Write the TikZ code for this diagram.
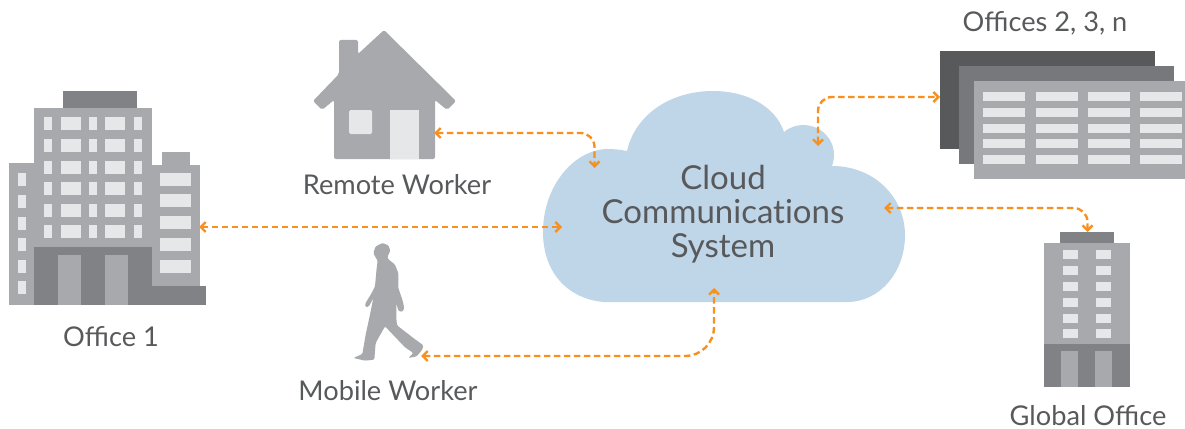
\documentclass[tikz,border=0pt]{standalone}
\usepackage{fontspec}
\setmainfont{Lato}
\usetikzlibrary{arrows.meta}
\definecolor{bodygrey}{HTML}{A7A9AC}
\definecolor{darkgrey}{HTML}{808285}
\definecolor{midgrey}{HTML}{77787B}
\definecolor{backgrey}{HTML}{58595B}
\definecolor{pane}{HTML}{E6E7E8}
\definecolor{cloudblue}{HTML}{BFD5E8}
\definecolor{linkorange}{HTML}{F7901E}
\definecolor{labeltext}{HTML}{58595B}
\tikzset{
  body/.style={fill=bodygrey},
  dark/.style={fill=darkgrey},
  glass/.style={fill=pane},
  link/.style={draw=linkorange,line width=2.4pt,dash pattern=on 6.5pt off 3.5pt,
    {Straight Barb[length=5pt,width=10pt,line width=2.4pt]}-{Straight Barb[length=5pt,width=10pt,line width=2.4pt]}},
  label/.style={text=labeltext,font=\fontsize{27.2}{30}\selectfont,inner sep=0pt,anchor=base},
  cloudtext/.style={text=labeltext,font=\fontsize{33}{34}\selectfont,inner sep=0pt,align=center,anchor=center}
}
\begin{document}
\begin{tikzpicture}[x=1pt,y=-1pt]
\useasboundingbox (0,0) rectangle (1185,428);

% Cloud
\fill[cloudblue] (603,302) .. controls (565,298) and (543,270) .. (543,232)
  .. controls (543,185) and (575,149) .. (608,149)
  .. controls (615,149) and (622,150) .. (627,151)
  .. controls (635,115) and (670,91) .. (713,91)
  .. controls (745,91) and (775,105) .. (784,132)
  .. controls (790,127) and (797,125) .. (803,125)
  .. controls (820,125) and (834,138) .. (834,155)
  .. controls (834,159) and (833,163) .. (832,166)
  .. controls (875,166) and (905,198) .. (905,235)
  .. controls (905,272) and (880,302) .. (847,302) -- cycle;
\node[cloudtext] (cloudlabel) at (723,214) {Cloud\\Communicat\kern0pt ions\\System};

% Office 1
\fill[dark] (63,91) rectangle (137,108);
\fill[body] (34,108) rectangle (152,247);
\fill[body] (9,163) rectangle (34,305);
\fill[body] (152,165) rectangle (200,286);
\fill[body] (162,152) rectangle (190,165);
\fill[dark] (34,247) rectangle (152,305);
\fill[dark] (152,286) rectangle (206,305);
\fill[body] (58,255) rectangle (81,305);
\fill[body] (105,255) rectangle (128,305);
\foreach \ya/\yb in {117/130,139/152,161/174,182/195,204/217,225/238}
  \foreach \xa/\xb in {44/52,61/81,89/97,105/125,134/142}
    \fill[glass] (\xa,\ya) rectangle (\xb,\yb);
\foreach \ya/\yb in {173/186,195/208,217/230,238/251,260/273,281/294}
  \fill[glass] (18,\ya) rectangle (26,\yb);
\foreach \ya/\yb in {173/186,194/207,216/229,238/251,260/273}
  \fill[glass] (160,\ya) rectangle (191,\yb);

% House
\fill[body,rounded corners=2pt] (384,30) -- (456,101) -- (447,110) -- (435,100) -- (435,159)
  -- (334,159) -- (334,100) -- (322,110) -- (313,101) -- (339,74) -- (339,40) -- (358,40)
  -- (358,54) -- cycle;
\fill[glass,rounded corners=1.5pt] (349,110) rectangle (372,134);
\fill[glass] (390,110) rectangle (419,159);

% Walking figure
\begin{scope}[shift={(345,238)},x=0.3333pt,y=-0.3333pt]
\fill[body,rounded corners=1.2pt] (112,15) -- (130,22) -- (136,38) -- (128,55) -- (128,62)
  -- (150,80) -- (160,105) -- (160,150) -- (172,185) -- (178,210) -- (172,222) -- (160,218)
  -- (154,195) -- (154,240) -- (156,262) -- (205,300) -- (235,322) -- (232,335) -- (215,355)
  -- (190,360) -- (205,345) -- (180,328) -- (120,265) -- (92,315) -- (88,365) -- (60,368)
  -- (25,360) -- (52,348) -- (62,290) -- (76,225) -- (85,180) -- (72,205) -- (62,208)
  -- (60,198) -- (80,165) -- (90,145) -- (95,90) -- (98,68) -- (90,55) -- (85,45) -- (92,25) -- cycle;
\end{scope}

% Offices 2, 3, n
\fill[backgrey] (940,51) rectangle (1155,149);
\fill[midgrey] (959,66) rectangle (1174,164);
\fill[body] (974,81) rectangle (1185,179);
\foreach \ya/\yb in {92/101,108/117,124/133,139/148,155/164}
  \foreach \xa/\xb in {983/1025,1036/1078,1088/1130,1140/1182}
    \fill[glass] (\xa,\ya) rectangle (\xb,\yb);

% Global office
\fill[dark] (1060,232) rectangle (1114,244);
\fill[body] (1044,243) rectangle (1130,344);
\fill[dark] (1044,344) rectangle (1130,387);
\fill[body] (1061,351) rectangle (1078,387);
\fill[body] (1095,351) rectangle (1112,387);
\foreach \ya/\yb in {250/259,266/275,282/291,298/307,314/323,329/338}
  \foreach \xa/\xb in {1063/1078,1096/1111}
    \fill[glass] (\xa,\ya) rectangle (\xb,\yb);

% Labels
\node[label] (l1) at (111,346.5) {Office 1};
\node[label] (l2) at (397,194) {Remote Worker};
\node[label] (l3) at (388,400) {Mobile Worker};
\node[label] (l4) at (1045,31.5) {Offices 2, 3, n};
\node[label] (l5) at (1088,425) {Global Office};

% Connector ends
\coordinate (officeport) at (199,227);
\coordinate (cloudwest) at (562,227);
\coordinate (houseport) at (434,133);
\coordinate (cloudhouse) at (594.5,168);
\coordinate (walkerport) at (421,356);
\coordinate (cloudsouth) at (714,288);
\coordinate (cloudbump) at (818,146);
\coordinate (officesport) at (940,97);
\coordinate (cloudeast) at (884,208);
\coordinate (globalport) at (1087.5,232);

% Connectors
\draw[link] (officeport) -- (cloudwest);
\draw[link,rounded corners=14pt] (houseport) -| (cloudhouse);
\draw[link,rounded corners=29pt] (walkerport) -| (cloudsouth);
\draw[link,rounded corners=14pt] (cloudbump) |- (officesport);
\draw[link,rounded corners=14pt] (cloudeast) -| (globalport);
\end{tikzpicture}
\end{document}
